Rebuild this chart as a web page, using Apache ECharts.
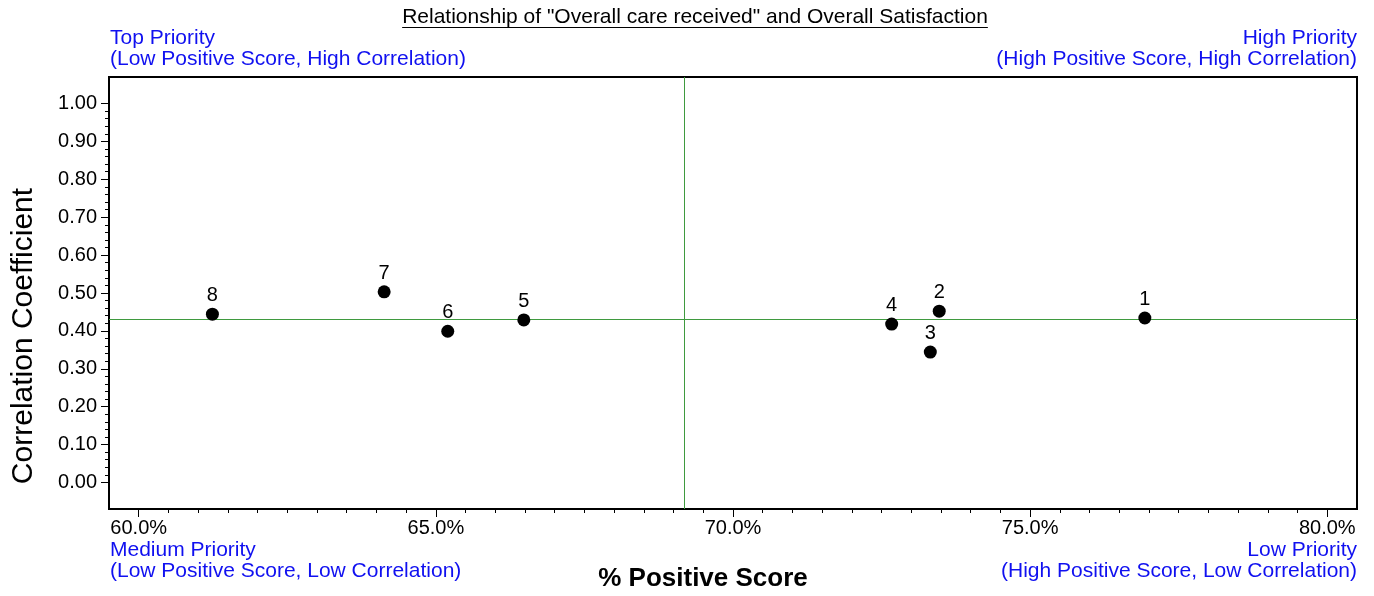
<!DOCTYPE html>
<html>
<head>
<meta charset="utf-8">
<script src="https://cdn.jsdelivr.net/npm/echarts@6/dist/echarts.min.js"></script>
<style>
html,body{margin:0;padding:0;background:#fff;}
#chart{width:1374px;height:596px;}
</style>
</head>
<body>
<div id="chart"></div>
<script>
// ---- data ----
const pointLabels = ['1','2','3','4','5','6','7','8'];
const positiveScore = [76.93, 73.47, 73.32, 72.67, 66.48, 65.20, 64.13, 61.24];
const correlation = [0.434, 0.452, 0.344, 0.418, 0.429, 0.399, 0.503, 0.444];
const xTickValues = [60, 65, 70, 75, 80];
const yTickValues = [0, 0.1, 0.2, 0.3, 0.4, 0.5, 0.6, 0.7, 0.8, 0.9, 1.0];
const titleText = 'Relationship of "Overall care received" and Overall Satisfaction';
const quadTopLeft = 'Top Priority\n(Low Positive Score, High Correlation)';
const quadTopRight = 'High Priority\n(High Positive Score, High Correlation)';
const quadBottomLeft = 'Medium Priority\n(Low Positive Score, Low Correlation)';
const quadBottomRight = 'Low Priority\n(High Positive Score, Low Correlation)';
const xAxisName = '% Positive Score';
const yAxisName = 'Correlation Coefficient';

const FONT = '"Liberation Sans", Arial, Helvetica, sans-serif';
const mean = a => a.reduce((s, v) => s + v, 0) / a.length;
const meanX = mean(positiveScore);
const meanY = mean(correlation);

// minor tick values
const xMinor = [];
for (let i = 0; i <= 40; i++) { const v = 60 + i * 0.5; if (i % 10 !== 0) xMinor.push(v); }
const yMinor = [];
for (let i = 0; i <= 50; i++) { const v = +(i * 0.02).toFixed(2); if (i % 5 !== 0) yMinor.push(v); }

const chart = echarts.init(document.getElementById('chart'), null, {renderer: 'canvas'});

// measure title width for the underline
const ctx = document.createElement('canvas').getContext('2d');
const titleSize = 21;
ctx.font = titleSize + 'px ' + FONT;
const tw = ctx.measureText(titleText).width;
const titleCx = 695;

const blueStyle = {fill: '#1010f0', fontSize: 21, fontFamily: FONT, lineHeight: 21};

const option = {
  backgroundColor: '#fff',
  animation: false,
  grid: {left: 109, right: 17, top: 77, bottom: 87, show: true, borderColor: '#000', borderWidth: 2, containLabel: false, outerBoundsMode: 'none'},
  xAxis: [{
    type: 'value', min: 59.5, max: 80.5,
    axisLine: {show: true, onZero: false, lineStyle: {color: '#000', width: 2}},
    axisTick: {show: true, customValues: xTickValues, length: 8, lineStyle: {color: '#000', width: 1}},
    axisLabel: {show: true, customValues: xTickValues, formatter: v => v.toFixed(1) + '%', color: '#000', fontSize: 20, fontFamily: FONT, margin: 9},
    splitLine: {show: false},
    name: xAxisName, nameLocation: 'middle', nameGap: 57,
    nameTextStyle: {fontSize: 26, fontWeight: 'bold', fontFamily: FONT, color: '#000', padding: [0, 60, 0, 0]}
  }, {
    type: 'value', min: 59.5, max: 80.5, position: 'bottom',
    axisLine: {show: false, onZero: false},
    axisTick: {show: true, customValues: xMinor, length: 4, lineStyle: {color: '#000', width: 1}},
    axisLabel: {show: false},
    splitLine: {show: false}
  }],
  yAxis: [{
    type: 'value', min: -0.07, max: 1.07,
    axisLine: {show: true, onZero: false, lineStyle: {color: '#000', width: 2}},
    axisTick: {show: true, customValues: yTickValues, length: 8, lineStyle: {color: '#000', width: 1}},
    axisLabel: {show: true, customValues: yTickValues, formatter: v => v.toFixed(2), color: '#000', fontSize: 20, fontFamily: FONT, margin: 12},
    splitLine: {show: false},
    name: yAxisName, nameLocation: 'middle', nameGap: 70, nameRotate: 90,
    nameTextStyle: {fontSize: 30, fontFamily: FONT, color: '#000', padding: [0, 86, 0, 0]}
  }, {
    type: 'value', min: -0.07, max: 1.07, position: 'left',
    axisLine: {show: false, onZero: false},
    axisTick: {show: true, customValues: yMinor, length: 4, lineStyle: {color: '#000', width: 1}},
    axisLabel: {show: false},
    splitLine: {show: false}
  }],
  series: [{
    type: 'scatter',
    xAxisIndex: 0, yAxisIndex: 0,
    symbol: 'circle', symbolSize: 13,
    itemStyle: {color: '#000', opacity: 1},
    data: positiveScore.map((x, i) => [x, correlation[i], pointLabels[i]]),
    label: {show: true, position: 'top', distance: 2, formatter: p => p.data[2], color: '#000', fontSize: 20, fontFamily: FONT},
    emphasis: {disabled: true},
    markLine: {
      silent: true, symbol: 'none', animation: false,
      lineStyle: {color: '#3f9a3f', width: 1, type: 'solid'},
      label: {show: false},
      emphasis: {disabled: true},
      data: [{xAxis: meanX}, {yAxis: meanY}]
    },
    z: 5
  }],
  graphic: [
    {type: 'text', x: titleCx, y: 17, style: {text: titleText, fill: '#000', fontSize: titleSize, fontFamily: FONT, align: 'center', verticalAlign: 'middle'}},
    {type: 'line', shape: {x1: titleCx - tw / 2, y1: 27.5, x2: titleCx + tw / 2, y2: 27.5}, style: {stroke: '#000', lineWidth: 1}},
    {type: 'text', x: 110, y: 28, style: Object.assign({text: quadTopLeft, align: 'left', verticalAlign: 'top'}, blueStyle)},
    {type: 'text', x: 1357, y: 28, style: Object.assign({text: quadTopRight, align: 'right', verticalAlign: 'top'}, blueStyle)},
    {type: 'text', x: 110, y: 539.5, style: Object.assign({text: quadBottomLeft, align: 'left', verticalAlign: 'top'}, blueStyle)},
    {type: 'text', x: 1357, y: 539.5, style: Object.assign({text: quadBottomRight, align: 'right', verticalAlign: 'top'}, blueStyle)}
  ]
};
chart.setOption(option);
</script>
</body>
</html>
